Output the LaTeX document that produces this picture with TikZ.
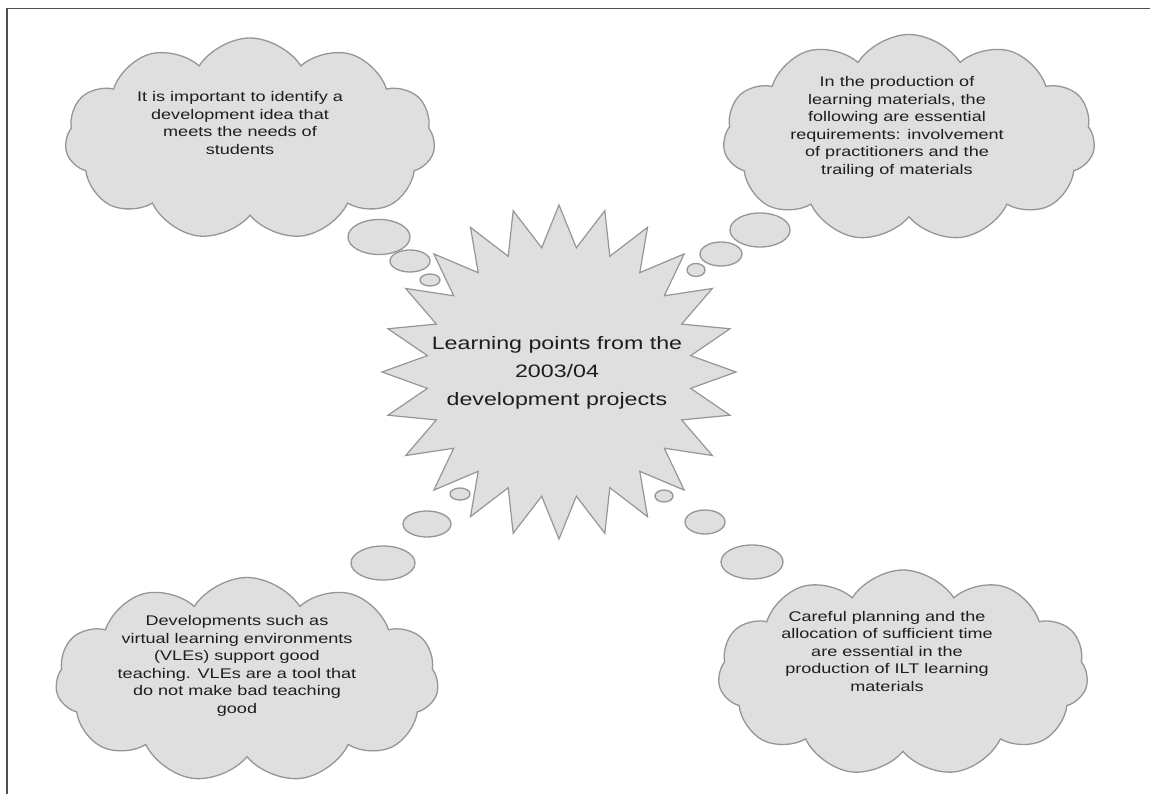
\documentclass[tikz,border=0pt]{standalone}
\usepackage{fontspec}
\usetikzlibrary{shapes.symbols,shapes.geometric,calc}
\newfontfamily\widesans[FakeStretch=1.29]{Liberation Sans}
\definecolor{fillgray}{RGB}{223,223,223}
\definecolor{linegray}{RGB}{150,150,150}
\definecolor{inkgray}{RGB}{30,30,30}
\definecolor{framegray}{RGB}{80,80,80}
\tikzset{
  cloudbox/.style={cloud, cloud puffs=11, cloud puff arc=115, cloud ignores aspect,
    draw=linegray, fill=fillgray, line width=1.3pt, inner sep=0pt},
  bubble/.style={ellipse, draw=linegray, fill=fillgray, line width=1.3pt, inner sep=0pt},
  burst/.style={draw=linegray, fill=fillgray, line width=1.2pt, line join=miter},
  cloudtext/.style={font=\widesans\fontsize{14}{17.5}\selectfont, align=center, text=inkgray, inner sep=0pt},
  centertext/.style={font=\widesans\fontsize{18}{28}\selectfont, align=center, text=inkgray, inner sep=0pt},
  frameline/.style={draw=framegray, line width=1.5pt},
}
\begin{document}
\begin{tikzpicture}[x=1pt,y=-1pt]
\useasboundingbox[fill=white] (0,0) rectangle (1150,794);

% page frame (top and left edges)
\coordinate (fbl) at (7,794);
\coordinate (ftl) at (7,8.5);
\coordinate (ftr) at (1150,8.5);
\draw[frameline] (fbl) -- (ftl) -- (ftr);

% central 24-point star
\draw[burst] plot[samples=48, domain=0:47, variable=\k]
  ({559+177*(1-0.25*mod(round(\k),2))*cos(90+7.5*\k)},
   {372+167*(1-0.25*mod(round(\k),2))*sin(90+7.5*\k)}) -- cycle;
\node[centertext] (title) at (557,373) {Learning points from the\\2003/04\\development projects};

% thought bubbles leading to each cloud
\node[bubble, minimum width=62pt, minimum height=35pt] (tlb1) at (379,237) {};
\node[bubble, minimum width=40pt, minimum height=22pt] (tlb2) at (410,261) {};
\node[bubble, minimum width=20pt, minimum height=12pt] (tlb3) at (430,280) {};

\node[bubble, minimum width=60pt, minimum height=34pt] (trb1) at (760,230) {};
\node[bubble, minimum width=42pt, minimum height=24pt] (trb2) at (721,254) {};
\node[bubble, minimum width=18pt, minimum height=13pt] (trb3) at (696,270) {};

\node[bubble, minimum width=20pt, minimum height=12pt] (blb3) at (460,494) {};
\node[bubble, minimum width=48pt, minimum height=26pt] (blb2) at (427,524) {};
\node[bubble, minimum width=64pt, minimum height=34pt] (blb1) at (383,563) {};

\node[bubble, minimum width=18pt, minimum height=12pt] (brb3) at (664,496) {};
\node[bubble, minimum width=40pt, minimum height=24pt] (brb2) at (705,522) {};
\node[bubble, minimum width=62pt, minimum height=34pt] (brb1) at (752,562) {};

% clouds
\node[cloudbox, minimum width=370pt, minimum height=202pt] (tl) at (250,139) {};
\node[cloudbox, minimum width=372pt, minimum height=207pt] (tr) at (909,138) {};
\node[cloudbox, minimum width=383pt, minimum height=205pt] (bl) at (247,680) {};
\node[cloudbox, minimum width=370pt, minimum height=206pt] (br) at (903,673) {};

\node[cloudtext] (tlt) at (240,123) {It is important to identify a\\development idea that\\meets the needs of\\students};
\node[cloudtext] (trt) at (897,127) {In the production of\\learning materials, the\\following are essential\\requirements: involvement\\of practitioners and the\\trailing of materials};
\node[cloudtext] (blt) at (237,666) {Developments such as\\virtual learning environments\\(VLEs) support good\\teaching. VLEs are a tool that\\do not make bad teaching\\good};
\node[cloudtext] (brt) at (887,651) {Careful planning and the\\allocation of sufficient time\\are essential in the\\production of ILT learning\\materials};
\end{tikzpicture}
\end{document}
